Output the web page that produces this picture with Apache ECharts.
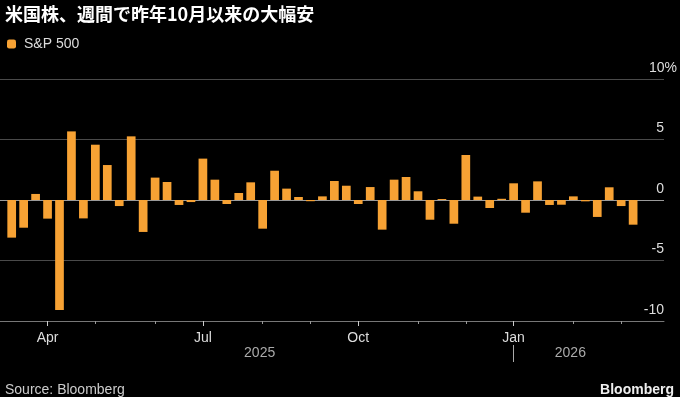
<!DOCTYPE html>
<html><head><meta charset="utf-8">
<script src="https://cdn.jsdelivr.net/npm/echarts@6/dist/echarts.min.js"></script>
<style>html,body{margin:0;padding:0;background:#000}#c{width:680px;height:397px}</style>
</head><body><div id="c"></div>
<script>
const weeks = [
 '2025-03-07','2025-03-14','2025-03-21','2025-03-28','2025-04-04','2025-04-11','2025-04-17','2025-04-25',
 '2025-05-02','2025-05-09','2025-05-16','2025-05-23','2025-05-30','2025-06-06','2025-06-13','2025-06-20',
 '2025-06-27','2025-07-03','2025-07-11','2025-07-18','2025-07-25','2025-08-01','2025-08-08','2025-08-15',
 '2025-08-22','2025-08-29','2025-09-05','2025-09-12','2025-09-19','2025-09-26','2025-10-03','2025-10-10',
 '2025-10-17','2025-10-24','2025-10-31','2025-11-07','2025-11-14','2025-11-21','2025-11-28','2025-12-05',
 '2025-12-12','2025-12-19','2025-12-26','2026-01-02','2026-01-09','2026-01-16','2026-01-23','2026-01-30',
 '2026-02-06','2026-02-13','2026-02-20','2026-02-27','2026-03-06'];
const sp500 = [
 -3.11,-2.29,0.50,-1.54,-9.09,5.67,-1.52,4.57,
 2.89,-0.50,5.26,-2.64,1.85,1.49,-0.41,-0.17,
 3.42,1.68,-0.33,0.58,1.46,-2.37,2.42,0.94,
 0.25,-0.10,0.30,1.57,1.18,-0.33,1.07,-2.45,
 1.68,1.90,0.72,-1.63,0.08,-1.96,3.72,0.28,
 -0.66,0.10,1.38,-1.05,1.54,-0.41,-0.39,0.30,
 -0.11,-1.40,1.05,-0.50,-2.04];
const monthLabels = {3:'Apr',16:'Jul',29:'Oct',42:'Jan'};
const minorTicks = [7,12,21,25,34,38,47,51];
const yearLabels = {21:'2025',47:'2026'};
const yearDividers = [42];
const yMin = -10, yMax = 10, yStep = 5;
const ySuffix = '%';
const seriesName = 'S&P 500';
const titleText = '米国株、週間で昨年10月以来の大幅安';

const FONT = '"Liberation Sans", Arial, sans-serif';
const chart = echarts.init(document.getElementById('c'), null, {renderer:'canvas'});
const gridTop = 79, gridBottom = 76;
const yLabelBase = {inside:true,verticalAlign:'bottom',padding:[0,0,4,0],color:'#ddd',fontSize:14,fontFamily:FONT};
chart.setOption({
  backgroundColor:'#000',
  animation:false,
  title:[
    {text:titleText,left:0,top:0,textStyle:{color:'#fff',fontSize:18,fontWeight:'bold',fontFamily:'"Noto Sans CJK JP", sans-serif'}},
    {text:'Source: Bloomberg',left:0,top:378,textStyle:{color:'#ccc',fontSize:14,fontWeight:'normal',fontFamily:FONT}},
    {text:'Bloomberg',right:1,top:378,textStyle:{color:'#eee',fontSize:14,fontWeight:'bold',fontFamily:FONT}}
  ],
  legend:{data:[seriesName],left:2,top:32,icon:'roundRect',itemWidth:9,itemHeight:9,
    textStyle:{color:'#ddd',fontSize:14,fontFamily:FONT,padding:[0,0,0,3]}},
  grid:[
    {left:0,right:15,top:gridTop,bottom:gridBottom},
    {left:5.72,right:40.9,top:gridTop,bottom:gridBottom}
  ],
  xAxis:[
    {gridIndex:0,type:'value',min:0,max:1,position:'bottom',
      axisLine:{show:true,onZero:false,lineStyle:{color:'#777',width:1}},
      axisTick:{show:false},axisLabel:{show:false},splitLine:{show:false}},
    {gridIndex:1,type:'category',data:weeks,position:'bottom',
      axisLine:{show:false,onZero:false},
      axisTick:{show:true,alignWithLabel:true,length:5,interval:(i)=>i in monthLabels,lineStyle:{color:'#ccc'}},
      axisLabel:{show:true,interval:(i)=>i in monthLabels,formatter:(v,i)=>monthLabels[i]||'',margin:10,color:'#ddd',fontSize:14,fontFamily:FONT},
      splitLine:{show:false}},
    {gridIndex:1,type:'category',data:weeks,position:'bottom',
      axisLine:{show:false,onZero:false},
      axisTick:{show:true,alignWithLabel:true,length:3,interval:(i)=>minorTicks.includes(i),lineStyle:{color:'#999'}},
      axisLabel:{show:false},splitLine:{show:false}},
    {gridIndex:1,type:'category',data:weeks,position:'bottom',offset:24,
      axisLine:{show:false,onZero:false},
      axisTick:{show:true,alignWithLabel:true,length:17,interval:(i)=>yearDividers.includes(i),lineStyle:{color:'#aaa'}},
      axisLabel:{show:true,interval:(i)=>i in yearLabels,formatter:(v,i)=>yearLabels[i]||'',margin:1,color:'#aaa',fontSize:14,fontFamily:FONT,padding:[0,6,0,0]},
      splitLine:{show:false}}
  ],
  yAxis:[
    {gridIndex:0,type:'value',position:'right',min:yMin,max:yMax,interval:yStep,
      axisLine:{show:false},axisTick:{show:false},
      axisLabel:Object.assign({},yLabelBase,{margin:0,formatter:(v)=> v===yMax ? '' : String(v)}),
      splitLine:{show:true,showMinLine:true,showMaxLine:true,lineStyle:{color:['#4a4a4a','#4a4a4a','#9a9a9a','#4a4a4a','#4a4a4a'],width:1}}},
    {gridIndex:1,type:'value',min:yMin,max:yMax,interval:yStep,show:false,splitLine:{show:false}},
    {gridIndex:0,type:'value',position:'right',min:yMin,max:yMax,interval:yStep,
      axisLine:{show:false},axisTick:{show:false},splitLine:{show:false},
      axisLabel:Object.assign({},yLabelBase,{margin:-13,formatter:(v)=> v===yMax ? v+ySuffix : ''})}
  ],
  series:[
    {name:seriesName,type:'bar',xAxisIndex:1,yAxisIndex:1,data:sp500,barWidth:8.7,
      itemStyle:{color:'#f7a234'}}
  ]
});
</script></body></html>
